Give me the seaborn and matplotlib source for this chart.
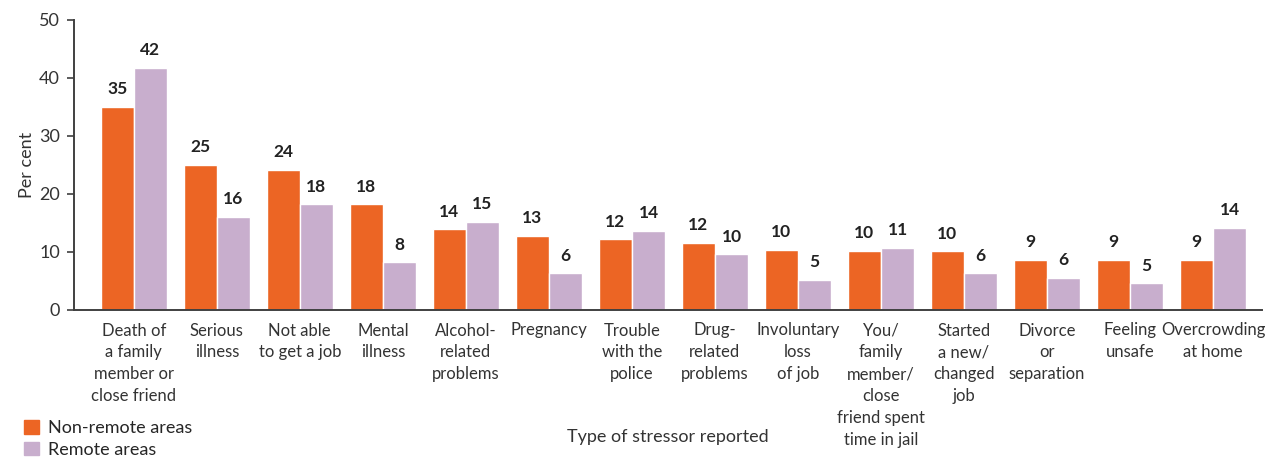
import matplotlib
matplotlib.use("Agg")
import matplotlib.pyplot as plt
import seaborn as sns
import pandas as pd
from matplotlib.patches import Patch

# Stressor categories (x axis)
stressors = [
    "Death of\na family\nmember or\nclose friend",
    "Serious\nillness",
    "Not able\nto get a job",
    "Mental\nillness",
    "Alcohol-\nrelated\nproblems",
    "Pregnancy",
    "Trouble\nwith the\npolice",
    "Drug-\nrelated\nproblems",
    "Involuntary\nloss\nof job",
    "You/\nfamily\nmember/\nclose\nfriend spent\ntime in jail",
    "Started\na new/\nchanged\njob",
    "Divorce\nor\nseparation",
    "Feeling\nunsafe",
    "Overcrowding\nat home",
]

# Per cent reporting each stressor
non_remote = [35.0, 25.0, 24.1, 18.2, 13.9, 12.8, 12.2, 11.6, 10.4, 10.2, 10.1, 8.7, 8.7, 8.6]
remote = [41.8, 16.0, 18.2, 8.2, 15.2, 6.3, 13.6, 9.6, 5.2, 10.7, 6.3, 5.6, 4.6, 14.1]

groups = ["Non-remote areas", "Remote areas"]
colors = ["#EC6524", "#C8AECD"]

df = pd.DataFrame({
    "stressor": stressors * 2,
    "area": [groups[0]] * len(stressors) + [groups[1]] * len(stressors),
    "pct": non_remote + remote,
})

sns.set_style("white")
plt.rcParams["font.family"] = ["Lato", "DejaVu Sans"]

fig = plt.figure(figsize=(12.72, 4.74), dpi=100)
ax = fig.add_axes([74 / 1272, 1 - 310 / 474, (1262 - 74) / 1272, 290 / 474])

sns.barplot(data=df, x="stressor", y="pct", hue="area", palette=colors,
            width=0.8, saturation=1, ax=ax, legend=False)

for cont in ax.containers:
    ax.bar_label(cont, fmt="%.0f", padding=7, fontsize=12.5, fontweight="bold",
                 color="#222222")

ax.set_ylim(0, 50)
ax.set_xlim(-0.72, 13.59)
ax.set_yticks([0, 10, 20, 30, 40, 50])
ax.tick_params(axis="y", labelsize=13, length=5, width=1.2, color="#404040",
               colors="#333333", left=True, pad=5)
ax.tick_params(axis="x", length=0, pad=9)
for lbl in ax.get_xticklabels():
    lbl.set_fontsize(12)
    lbl.set_linespacing(1.45)
    lbl.set_color("#333333")
    lbl.set_verticalalignment("top")

for s in ["top", "right"]:
    ax.spines[s].set_visible(False)
for s in ["left", "bottom"]:
    ax.spines[s].set_color("#404040")
    ax.spines[s].set_linewidth(1.4)

ax.set_ylabel("Per cent", fontsize=13, color="#333333")
ax.yaxis.set_label_coords(-0.033, 0.5)
ax.set_xlabel("Type of stressor reported", fontsize=13, color="#333333")
ax.xaxis.set_label_coords(0.5, -0.41)

handles = [Patch(color=c) for c in colors]
fig.legend(handles, groups, loc="upper left", bbox_to_anchor=(0.019, 1 - 420 / 474),
           frameon=False, fontsize=13, handlelength=0.8, handleheight=0.8,
           handletextpad=0.5, labelspacing=0.3, borderaxespad=0, borderpad=0)

fig.savefig("out.png", dpi=100)
